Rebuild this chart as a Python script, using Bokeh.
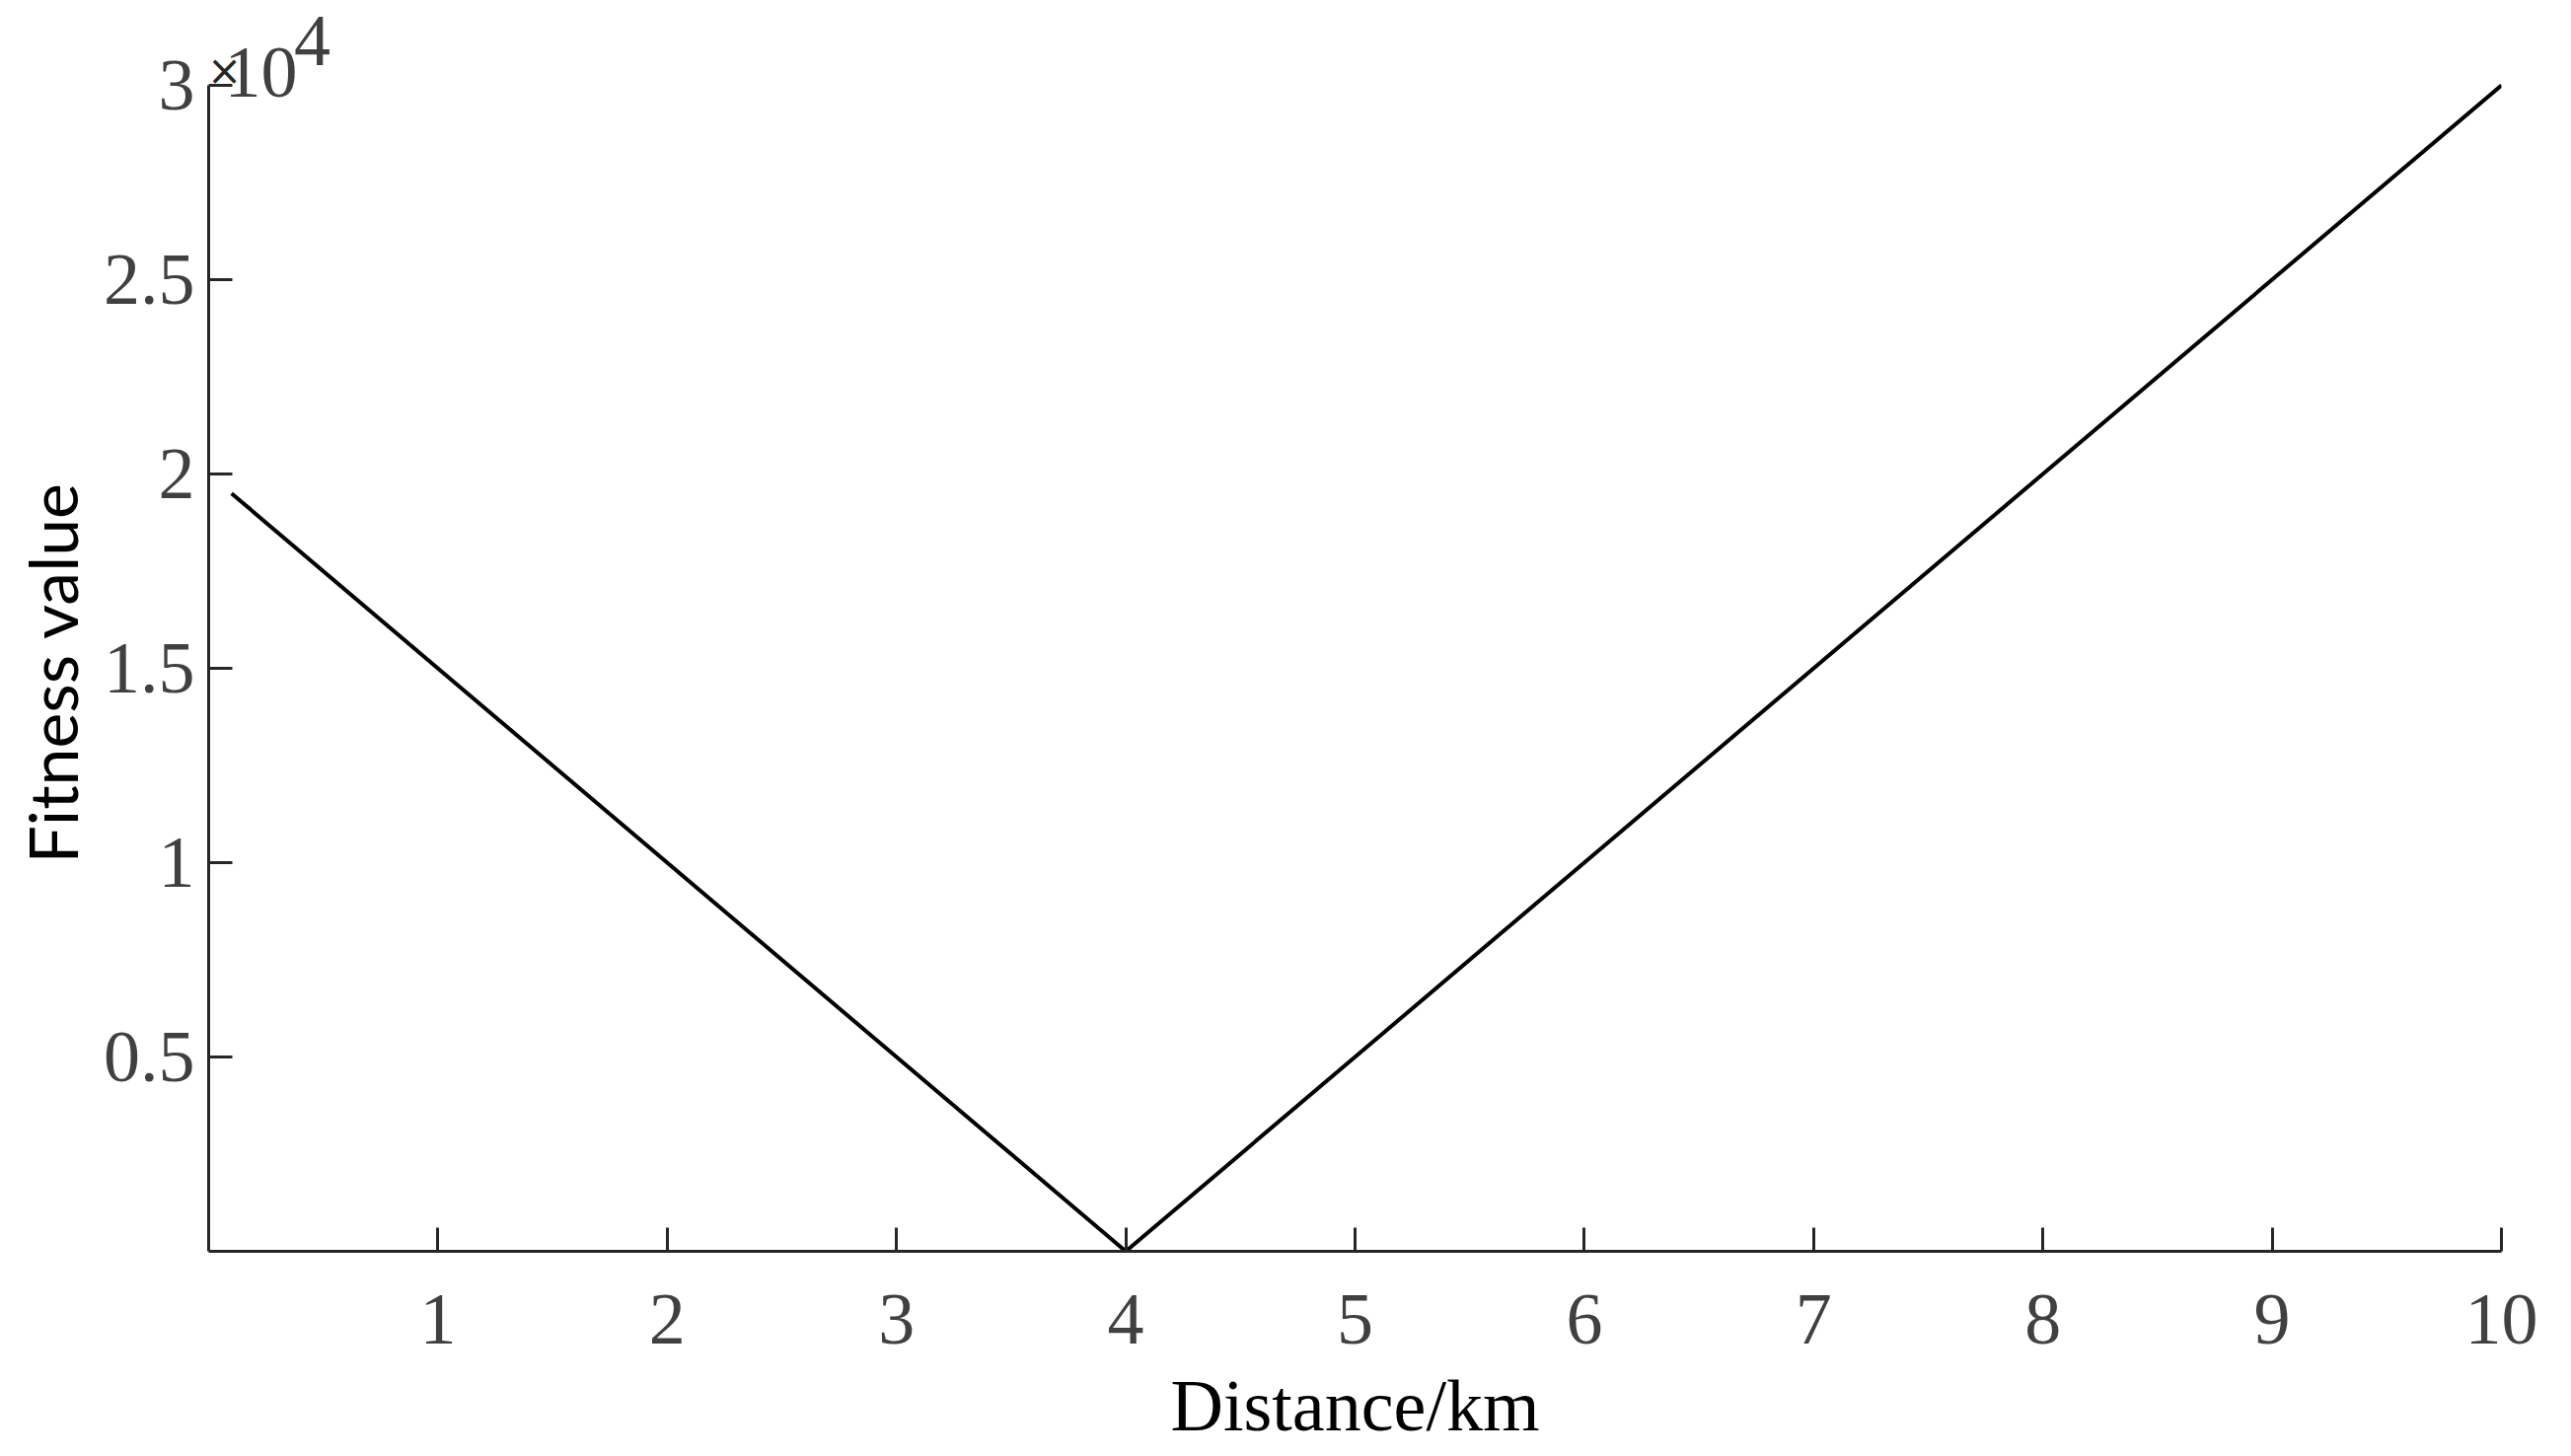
import math
from bokeh.plotting import figure
from bokeh.models import Range1d, FixedTicker, Label, Title
from bokeh.embed import file_html
from bokeh.resources import INLINE

# data
distance_km = [0.1, 4.0, 10.0]
fitness = [19500, 0, 30000]

x_ticks = [1, 2, 3, 4, 5, 6, 7, 8, 9, 10]
y_ticks = [5000, 10000, 15000, 20000, 25000, 30000]
y_tick_labels = ["0.5", "1", "1.5", "2", "2.5", "3"]

x_title = "Distance/km"
y_title = "Fitness value"
exponent_base = "10"
exponent_power = "4"

# layout: axes box is 2324 x 1182 px, with 86 px of free space above it
# kept inside the frame (so the exponent label is not clipped)
AXES_H = 1182
TOP_SPACE = 86
y_min, y_max = 0, 30000
y_frame_top = y_max + (y_max - y_min) * TOP_SPACE / AXES_H

p = figure(output_backend="svg", toolbar_location=None,
           x_range=Range1d(0, 10), y_range=Range1d(y_min, y_frame_top),
           frame_width=2324, frame_height=AXES_H + TOP_SPACE,
           min_border_left=211, min_border_top=0,
           min_border_right=63, min_border_bottom=208)
p.outline_line_color = None
p.grid.visible = False
p.background_fill_color = "white"
p.border_fill_color = "white"

p.line(distance_km, fitness, line_color="black", line_width=4)

for ax in (p.xaxis[0], p.yaxis[0]):
    ax.axis_line_color = "#262626"
    ax.axis_line_width = 3
    ax.major_tick_line_color = "#262626"
    ax.major_tick_line_width = 3
    ax.major_tick_in = 24
    ax.major_tick_out = 0
    ax.minor_tick_line_color = None
    ax.major_label_text_font = "Liberation Serif"
    ax.major_label_text_font_size = "74px"
    ax.major_label_text_color = "#404040"

p.yaxis.bounds = (y_min, y_max)
p.xaxis.ticker = FixedTicker(ticks=x_ticks)
p.yaxis.ticker = FixedTicker(ticks=y_ticks)
p.yaxis.major_label_overrides = {t: l for t, l in zip(y_ticks, y_tick_labels)}
p.xaxis.major_label_standoff = 44
p.yaxis.major_label_standoff = 14

p.xaxis.axis_label = x_title
p.xaxis.axis_label_text_font = "Liberation Serif"
p.xaxis.axis_label_text_font_size = "74px"
p.xaxis.axis_label_text_font_style = "normal"
p.xaxis.axis_label_text_color = "black"
p.xaxis.axis_label_standoff = 19

# y title: placed in the left panel, aligned to the axes box (not the frame)
p.add_layout(Title(text=y_title, align="left", offset=393, standoff=17,
                   text_font="Lato", text_font_size="68px",
                   text_font_style="normal", text_color="black"), "left")

def screen_label(x, y, text, **kw):
    lab = Label(x=x, y=y, x_units="screen", y_units="screen", text=text,
                text_align="center", text_baseline="middle", **kw)
    p.add_layout(lab)
    return lab

# exponent label  x10^4
screen_label(16, 1197, "×", text_font="DejaVu Sans", text_font_size="42px",
             text_color="#262626")
screen_label(53, 1195, exponent_base, text_font="Liberation Serif",
             text_font_size="74px", text_color="#404040")
screen_label(105, 1227, exponent_power, text_font="Liberation Serif",
             text_font_size="74px", text_color="#404040")

open("out.html", "w").write(file_html(p, INLINE))
